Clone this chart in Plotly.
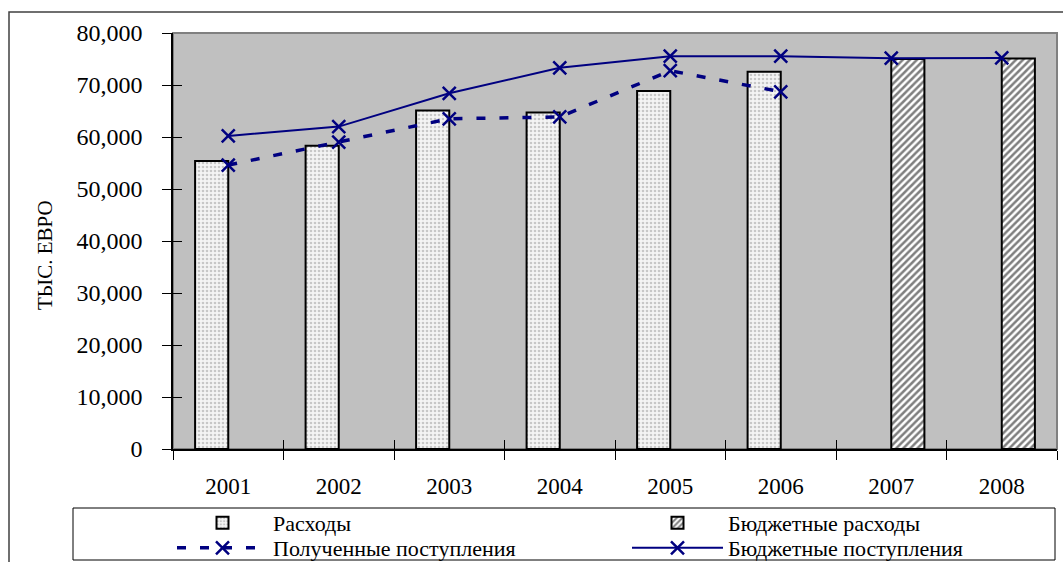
import plotly.graph_objects as go

years = ["2001", "2002", "2003", "2004", "2005", "2006", "2007", "2008"]
expenses = [55400, 58300, 65100, 64700, 68850, 72550, None, None]
budget_expenses = [None, None, None, None, None, None, 75000, 75100]
received_income = [54600, 59000, 63500, 63850, 72750, 68700, None, None]
budget_income = [60200, 62000, 68400, 73300, 75550, 75550, 75150, 75200]
y_ticks = [0, 10000, 20000, 30000, 40000, 50000, 60000, 70000, 80000]
boundaries = [-0.5, 0.5, 1.5, 2.5, 3.5, 4.5, 5.5, 6.5, 7.5]

W, H = 1063, 562
L, R, T, B = 173, 6, 33, 113
PW, PH = W - L - R, H - T - B


def px(x):
    return (x - L) / PW


def py(y):
    return (H - B - y) / PH


navy = "#000080"
font = "Liberation Serif"

fig = go.Figure()
fig.add_trace(go.Bar(
    x=years, y=expenses, name="Расходы", legend="legend",
    marker=dict(color="#f4f4f4", line=dict(color="black", width=2),
                pattern=dict(shape=".", fgcolor="#9a9a9a", bgcolor="#f4f4f4", size=4, solidity=0.35)),
))
fig.add_trace(go.Bar(
    x=years, y=budget_expenses, name="Бюджетные расходы", legend="legend",
    marker=dict(color="white", line=dict(color="black", width=2),
                pattern=dict(shape="/", fgcolor="black", bgcolor="white", size=5, solidity=0.5)),
))
fig.add_trace(go.Scatter(
    x=years, y=received_income, name="Полученные поступления", mode="lines+markers",
    legend="legend2",
    line=dict(color=navy, width=3.5, dash="9px,14px"),
    marker=dict(symbol="x-thin", size=13, line=dict(color=navy, width=2.5), color=navy),
))
fig.add_trace(go.Scatter(
    x=years, y=budget_income, name="Бюджетные поступления", mode="lines+markers",
    legend="legend2",
    line=dict(color=navy, width=2),
    marker=dict(symbol="x-thin", size=13, line=dict(color=navy, width=2.5), color=navy),
))
# empty trace so the overlay axes (inner half of the crossing ticks) are drawn
fig.add_trace(go.Scatter(x=[], y=[], xaxis="x2", yaxis="y2", showlegend=False,
                         hoverinfo="skip", mode="lines"))

shapes = [
    # plot area border
    dict(type="rect", xref="paper", yref="paper", x0=0, x1=1, y0=0, y1=1,
         line=dict(color="#808080", width=2), layer="below"),
    # outer frame
    dict(type="rect", xref="paper", yref="paper", x0=px(9), x1=px(1070), y0=py(575), y1=py(12),
         line=dict(color="#404040", width=1.5)),
    # legend frame
    dict(type="rect", xref="paper", yref="paper", x0=px(73), x1=px(1055), y0=py(560), y1=py(508),
         line=dict(color="black", width=1)),
]

leg_common = dict(orientation="h", xanchor="left", yanchor="top",
                  entrywidth=349, itemwidth=91, font=dict(family=font, size=22),
                  bgcolor="rgba(0,0,0,0)", itemclick=False, itemdoubleclick=False)

fig.update_layout(
    width=W, height=H,
    margin=dict(l=L, r=R, t=T, b=B, autoexpand=False),
    paper_bgcolor="white",
    plot_bgcolor="#c0c0c0",
    barmode="group", bargap=0.4, bargroupgap=0,
    font=dict(family=font, size=22, color="black"),
    showlegend=True,
    legend=dict(x=px(172), y=py(502), **leg_common),
    legend2=dict(x=px(172), y=py(527), **leg_common),
    shapes=shapes,
    annotations=[dict(text="ТЫС. ЕВРО", xref="paper", yref="paper", x=px(45), y=py(255),
                      xanchor="center", yanchor="middle",
                      textangle=-90, showarrow=False, font=dict(family=font, size=21))],
    xaxis2=dict(overlaying="x", anchor="y2", range=[-0.5, 7.5], tickvals=boundaries,
                ticks="inside", ticklen=9, tickcolor="black", showticklabels=False,
                showgrid=False, zeroline=False, showline=False, fixedrange=True),
    yaxis2=dict(overlaying="y", anchor="x2", side="left", range=[0, 80000], tickvals=y_ticks,
                ticks="inside", ticklen=9, tickcolor="black", showticklabels=False,
                showgrid=False, zeroline=False, showline=False, fixedrange=True),
)
fig.layout.xaxis.update(type="category", tickson="boundaries", ticks="outside", ticklen=9,
                        tickcolor="black", showline=True, linecolor="black", linewidth=1.5,
                        showgrid=False, ticklabelstandoff=16, tickfont=dict(size=23))
fig.layout.yaxis.update(range=[0, 80000], tickvals=y_ticks, tickformat=",d", ticks="outside",
                        ticklen=9, tickcolor="black", showline=True, linecolor="black",
                        linewidth=1.5, showgrid=False, zeroline=False, ticklabelstandoff=15,
                        tickfont=dict(size=24))

fig.write_html("out.html", config={"displayModeBar": False},
               post_script="document.body.style.margin='0';")
